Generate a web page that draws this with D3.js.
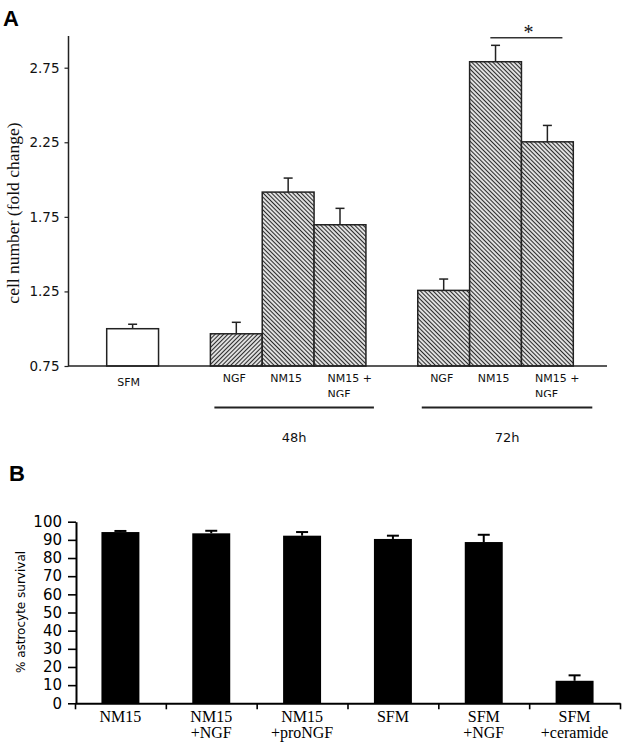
<!DOCTYPE html>
<html><head><meta charset="utf-8">
<script src="https://cdn.jsdelivr.net/npm/d3@7/dist/d3.min.js"></script>
<style>
html,body{margin:0;padding:0;background:#fff;}
svg{display:block;}
</style></head>
<body>
<script>
// ---------- Panel A data ----------
const catsA   = ["SFM", "NGF", "NM15", "NM15 +|NGF", "NGF", "NM15", "NM15 +|NGF"];
const groupsA = ["", "48h", "48h", "48h", "72h", "72h", "72h"];
const valuesA = [1.00, 0.966, 1.916, 1.697, 1.257, 2.79, 2.253];
const errorsA = [0.03, 0.077, 0.094, 0.11, 0.076, 0.11, 0.11];
const ticksA  = [0.75, 1.25, 1.75, 2.25, 2.75];
const groupLabelsA = ["48h", "72h"];

// ---------- Panel B data ----------
const catsB   = ["NM15", "NM15|+NGF", "NM15|+proNGF", "SFM", "SFM|+NGF", "SFM|+ceramide"];
const valuesB = [94.3, 93.6, 92.3, 90.5, 88.8, 12.4];
const errorsB = [0.6, 1.4, 2.0, 1.8, 4.0, 3.0];
const ticksB  = [0, 10, 20, 30, 40, 50, 60, 70, 80, 90, 100];

const W = 629, H = 749;
const svg = d3.select("body").append("svg").attr("width", W).attr("height", H);

// hatch patterns
const defs = svg.append("defs");
function hatch(id, angle, spacing) {
  const p = defs.append("pattern").attr("id", id).attr("patternUnits", "userSpaceOnUse")
    .attr("width", spacing).attr("height", spacing)
    .attr("patternTransform", `rotate(${angle})`);
  p.append("rect").attr("width", spacing).attr("height", spacing).attr("fill", "#fff");
  p.append("line").attr("x1", spacing / 2).attr("x2", spacing / 2).attr("y1", 0).attr("y2", spacing)
    .attr("stroke", "#2a2a2a").attr("stroke-width", 1.3);
}
hatch("hUp", 45, 3.0);
hatch("hDown", -45, 3.0);

// ================= PANEL A =================
const gA = svg.append("g");
const yA = d3.scaleLinear().domain([0.75, 2.75]).range([366, 67.7]);
// slot index: bars in groups separated by an empty slot
const slotA = catsA.map((c, i) => {
  let gap = 0;
  for (let k = 1; k <= i; k++) if (groupsA[k] !== groupsA[k - 1]) gap++;
  return i + gap;
});
const xA = d3.scaleBand().domain(d3.range(9)).range([106.7, 573.3]).padding(0);
const bwA = xA.bandwidth();

function fillA(i) {
  if (groupsA[i] === "") return "#fff";
  if (groupsA[i] === "48h" && catsA[i] === "NGF") return "url(#hUp)";
  return "url(#hDown)";
}

// error bars (upward only)
catsA.forEach((c, i) => {
  const cx = xA(slotA[i]) + bwA / 2;
  gA.append("line").attr("x1", cx).attr("x2", cx)
    .attr("y1", yA(valuesA[i])).attr("y2", yA(valuesA[i] + errorsA[i]))
    .attr("stroke", "#222").attr("stroke-width", 1.5);
  gA.append("line").attr("x1", cx - 4.5).attr("x2", cx + 4.5)
    .attr("y1", yA(valuesA[i] + errorsA[i])).attr("y2", yA(valuesA[i] + errorsA[i]))
    .attr("stroke", "#222").attr("stroke-width", 1.5);
});

gA.selectAll("rect.bar").data(valuesA).enter().append("rect")
  .attr("class", "bar")
  .attr("x", (d, i) => xA(slotA[i]))
  .attr("width", bwA)
  .attr("y", d => yA(d))
  .attr("height", d => yA(0.75) - yA(d))
  .attr("fill", (d, i) => fillA(i))
  .attr("stroke", "#222").attr("stroke-width", 1.5);

// axes
const axA = gA.append("g").attr("transform", "translate(68.5,0)")
  .call(d3.axisLeft(yA).tickValues(ticksA).tickSize(4).tickPadding(5).tickFormat(d3.format(".2f")));
axA.select(".domain").remove();
axA.selectAll(".tick line").attr("stroke", "#222").attr("stroke-width", 1.2);
axA.selectAll(".tick text").attr("font-family", "DejaVu Sans").attr("font-size", 13.5).attr("fill", "#111");
gA.append("line").attr("x1", 68.5).attr("x2", 68.5).attr("y1", 36).attr("y2", 366)
  .attr("stroke", "#222").attr("stroke-width", 1.5);
gA.append("line").attr("x1", 68).attr("x2", 607).attr("y1", 366).attr("y2", 366)
  .attr("stroke", "#222").attr("stroke-width", 1.5);

// category labels
const clip = defs.append("clipPath").attr("id", "clipA");
clip.append("rect").attr("x", 0).attr("y", 0).attr("width", W).attr("height", 397);
catsA.forEach((c, i) => {
  const lines = c.split("|");
  const cx = xA(slotA[i]) + bwA / 2;
  const t = gA.append("text").attr("font-family", "DejaVu Sans").attr("font-size", 11).attr("fill", "#111")
    .attr("clip-path", "url(#clipA)");
  if (lines.length > 1) {
    t.attr("text-anchor", "start");
    lines.forEach((l, k) => t.append("tspan").attr("x", xA(slotA[i]) + 13.5).attr("y", 382 + k * 15.5).text(l));
  } else {
    t.attr("text-anchor", "middle").attr("x", cx - (groupsA[i] === "" ? 4 : 2)).attr("y", groupsA[i] === "" ? 386 : 382).text(c);
  }
});

// group lines and labels
groupLabelsA.forEach((gname, gi) => {
  const idx = groupsA.map((g, i) => g === gname ? i : -1).filter(i => i >= 0);
  const x0 = xA(slotA[idx[0]]) + 4;
  const x1 = xA(slotA[idx[idx.length - 1]]) + bwA + (gi === 0 ? 8 : 19);
  gA.append("line").attr("x1", x0).attr("x2", x1).attr("y1", 407.5).attr("y2", 407.5)
    .attr("stroke", "#222").attr("stroke-width", 1.8);
  gA.append("text").attr("x", (x0 + x1) / 2).attr("y", 442).attr("text-anchor", "middle")
    .attr("font-family", "DejaVu Sans").attr("font-size", 13).attr("fill", "#111").text(gname);
});

// significance marker between 72h NM15 and NM15+NGF
const sx0 = xA(slotA[5]) + bwA * 0.4, sx1 = xA(slotA[6]) + bwA * 0.79;
gA.append("line").attr("x1", sx0).attr("x2", sx1).attr("y1", yA(2.95)).attr("y2", yA(2.95))
  .attr("stroke", "#333").attr("stroke-width", 1.5);
gA.append("text").attr("x", (sx0 + sx1) / 2 + 2).attr("y", 39).attr("text-anchor", "middle")
  .attr("font-family", "Liberation Serif").attr("font-size", 20).attr("fill", "#111").text("*");

// y label
gA.append("text").attr("transform", "translate(19,213) rotate(-90)").attr("text-anchor", "middle")
  .attr("font-family", "Liberation Serif").attr("font-size", 17.5).attr("fill", "#111")
  .text("cell number (fold change)");

svg.append("text").attr("x", 3).attr("y", 26).attr("font-family", "Liberation Sans").attr("font-weight", "bold")
  .attr("font-size", 22).attr("fill", "#000").text("A");

// ================= PANEL B =================
const gB = svg.append("g");
const yB = d3.scaleLinear().domain([0, 100]).range([703.3, 521.7]);
const xB = d3.scaleBand().domain(catsB).range([75, 620]).paddingInner(0.582).paddingOuter(0.291);

catsB.forEach((c, i) => {
  const cx = xB(c) + xB.bandwidth() / 2;
  const top = yB(valuesB[i] + errorsB[i]);
  gB.append("line").attr("x1", cx).attr("x2", cx).attr("y1", yB(valuesB[i])).attr("y2", top)
    .attr("stroke", "#000").attr("stroke-width", 2);
  gB.append("line").attr("x1", cx - 6).attr("x2", cx + 6).attr("y1", top).attr("y2", top)
    .attr("stroke", "#000").attr("stroke-width", 2);
});

gB.selectAll("rect.barB").data(valuesB).enter().append("rect")
  .attr("class", "barB")
  .attr("x", (d, i) => xB(catsB[i]))
  .attr("width", xB.bandwidth())
  .attr("y", d => yB(d))
  .attr("height", d => yB(0) - yB(d))
  .attr("fill", "#000");

const axB = gB.append("g").attr("transform", "translate(76,0)")
  .call(d3.axisLeft(yB).tickValues(ticksB).tickSize(8).tickSizeOuter(0).tickPadding(6));
axB.select(".domain").attr("stroke", "#000").attr("stroke-width", 2);
axB.selectAll(".tick line").attr("stroke", "#000").attr("stroke-width", 1.6);
axB.selectAll(".tick text").attr("font-family", "DejaVu Sans").attr("font-size", 15).attr("fill", "#000");

// x axis with ticks at band boundaries
const xBound = d3.scaleLinear().domain([0, catsB.length]).range([75, 620]);
const axBx = gB.append("g").attr("transform", "translate(0,703.3)")
  .call(d3.axisBottom(xBound).tickValues(d3.range(0, catsB.length + 1)).tickSize(6).tickSizeOuter(0).tickFormat(""));
axBx.select(".domain").attr("stroke", "#000").attr("stroke-width", 2);
axBx.selectAll(".tick line").attr("stroke", "#000").attr("stroke-width", 1.6);

catsB.forEach((c, i) => {
  const cx = xB(c) + xB.bandwidth() / 2;
  const t = gB.append("text").attr("text-anchor", "middle").attr("font-family", "Liberation Serif")
    .attr("font-size", 16).attr("fill", "#000");
  c.split("|").forEach((l, k) => t.append("tspan").attr("x", cx).attr("y", 722 + k * 16).text(l));
});

gB.append("text").attr("transform", "translate(25,612) rotate(-90)").attr("text-anchor", "middle")
  .attr("font-family", "DejaVu Sans").attr("font-size", 12).attr("fill", "#000").text("% astrocyte survival");

svg.append("text").attr("x", 9).attr("y", 481).attr("font-family", "Liberation Sans").attr("font-weight", "bold")
  .attr("font-size", 22).attr("fill", "#000").text("B");
</script>
</body></html>
